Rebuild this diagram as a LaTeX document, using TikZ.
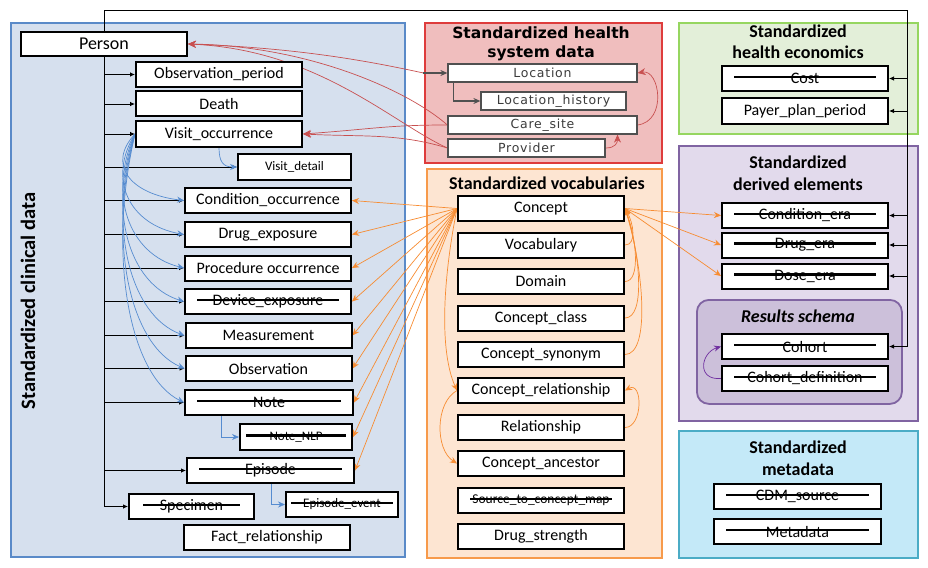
\documentclass[tikz,border=0pt]{standalone}
\usepackage{fontspec}
\setmainfont{Carlito}
\newfontfamily\hsfont[LetterSpace=6]{DejaVu Sans}
\newfontfamily\hstfont{DejaVu Sans}
\usetikzlibrary{arrows.meta}
\definecolor{cbluefill}{RGB}{214,224,238}
\definecolor{cblueline}{RGB}{90,138,200}
\definecolor{credfill}{RGB}{240,190,190}
\definecolor{credline}{RGB}{222,60,60}
\definecolor{corfill}{RGB}{253,229,210}
\definecolor{corline}{RGB}{247,154,75}
\definecolor{cgrfill}{RGB}{227,239,217}
\definecolor{cgrline}{RGB}{150,214,96}
\definecolor{cpufill}{RGB}{226,218,236}
\definecolor{cpuline}{RGB}{128,100,162}
\definecolor{crsfill}{RGB}{204,192,218}
\definecolor{ccyfill}{RGB}{196,233,248}
\definecolor{ccyline}{RGB}{75,172,198}
\definecolor{cbluearr}{RGB}{86,140,208}
\definecolor{credarr}{RGB}{200,80,80}
\definecolor{corarr}{RGB}{247,140,50}
\definecolor{cpurarr}{RGB}{112,48,160}
\definecolor{chsgray}{RGB}{80,80,80}
\definecolor{chstext}{RGB}{60,60,60}
\pgfdeclarelayer{panels}
\pgfdeclarelayer{edges}
\pgfsetlayers{panels,edges,main}
\begin{document}
\begin{tikzpicture}[x=1pt,y=-1pt,
  panel/.style={line width=1.8pt, anchor=north west, inner sep=0pt},
  box/.style={draw=black, line width=2pt, fill=white, inner sep=0pt,
    minimum width=166pt, minimum height=25pt, font=\fontsize{16}{18}\selectfont},
  sbox/.style={box, font=\fontsize{13}{15}\selectfont},
  hbox/.style={draw=chsgray, line width=1.2pt, fill=white, inner sep=0pt,
    minimum height=18pt, text=chstext, font=\hsfont\fontsize{12.5}{14}\selectfont},
  strike/.style={path picture={\draw[line width=2.4pt]
    ([shift={(#1,1.5pt)}]path picture bounding box.west) --
    ([shift={(-#1,1.5pt)}]path picture bounding box.east);}},
  strike/.default=12pt,
  title/.style={font=\bfseries\fontsize{18}{21.5}\selectfont, align=center},
  blk/.style={draw=black, line width=0.8pt},
  tipk/.style={-{Latex[length=5pt,width=4.5pt]}},
  bluearr/.style={draw=cbluearr, line width=0.7pt, -{Stealth[length=7pt,width=6pt]}},
  orarr/.style={draw=corarr, line width=0.7pt, -{Stealth[length=7pt,width=6pt]}},
  redarr/.style={draw=credarr, line width=0.7pt, -{Stealth[length=8pt,width=7pt]}},
  grayarr/.style={draw=chsgray, line width=1.2pt, -{Stealth[length=7pt,width=6pt]}},
  purarr/.style={draw=cpurarr, line width=0.7pt, -{Stealth[length=7pt,width=6pt]}}
]
\useasboundingbox (0,0) rectangle (928,567);

% ---------- panels ----------
\begin{pgfonlayer}{panels}
\node[panel, draw=cblueline, fill=cbluefill, minimum width=394pt, minimum height=534pt] (clinical) at (10,22) {};
\node[panel, draw=credline, fill=credfill, minimum width=237pt, minimum height=140pt] (hsys) at (424,22) {};
\node[panel, draw=corline, fill=corfill, minimum width=235pt, minimum height=389pt] (vocab) at (426,168) {};
\node[panel, draw=cgrline, fill=cgrfill, minimum width=239pt, minimum height=111pt] (econ) at (678,22) {};
\node[panel, draw=cpuline, fill=cpufill, minimum width=239pt, minimum height=275pt] (derived) at (678,145) {};
\node[panel, draw=cpuline, fill=crsfill, rounded corners=12pt, minimum width=205pt, minimum height=104pt] (results) at (696,299) {};
\node[panel, draw=ccyline, fill=ccyfill, minimum width=239pt, minimum height=127pt] (meta) at (678,430) {};
\end{pgfonlayer}

% ---------- titles ----------
\node[rotate=90, font=\bfseries\fontsize{20.5}{24}\selectfont] (cliniclabel) at (28,301) {Standardized clinical data};
\node[font=\hstfont\bfseries\fontsize{15.5}{19}\selectfont, align=center] (hsystitle) at (541,44) {Standardized health\\system data};
\node[title] (vocabtitle) at (547,183) {Standardized vocabularies};
\node[title] (econtitle) at (798,42) {Standardized\\health economics};
\node[title] (derivedtitle) at (798,173) {Standardized\\derived elements};
\node[font=\bfseries\itshape\fontsize{18}{21}\selectfont] (resultstitle) at (798,316) {Results schema};
\node[title] (metatitle) at (798,458) {Standardized\\metadata};

% ---------- clinical boxes ----------
\node[box, minimum height=24pt, font=\fontsize{18}{20}\selectfont] (person) at (104,44) {Person};
\node[box] (obs) at (219,74.5) {Observation\_period};
\node[box] (death) at (219,104) {Death};
\node[box] (visit) at (219,134) {Visit\_occurrence};
\node[sbox, minimum width=113pt, minimum height=26pt] (vdetail) at (294.5,167) {Visit\_detail};
\node[box] (cond) at (268,200.5) {Condition\_occurrence};
\node[box] (drug) at (268,234.5) {Drug\_exposure};
\node[box] (proc) at (268,268) {Procedure occurrence};
\node[box, strike] (device) at (268,301.5) {Device\_exposure};
\node[box] (meas) at (268.5,335.5) {Measurement};
\node[box] (observ) at (268.5,368.5) {Observation};
\node[box, minimum width=168pt, strike] (note) at (269,402.5) {Note};
\node[sbox, minimum width=112pt, minimum height=26pt, strike=6pt] (nlp) at (296,437) {Note\_NLP};
\node[box, minimum width=167pt, strike] (episode) at (270.5,470.5) {Episode};
\node[box, minimum width=125pt, strike=14pt] (specimen) at (191.5,506.5) {Specimen};
\node[sbox, minimum width=112pt, strike=5pt] (epev) at (342,504.5) {Episode\_event};
\node[box] (fact) at (267,537.5) {Fact\_relationship};

% ---------- health system boxes ----------
\node[hbox, minimum width=189pt] (location) at (542.5,73) {Location};
\node[hbox, minimum width=145pt] (lochist) at (553.5,101) {Location\_history};
\node[hbox, minimum width=189pt] (caresite) at (542.5,125) {Care\_site};
\node[hbox, minimum width=157pt] (provider) at (526.5,148) {Provider};

% ---------- vocabulary boxes ----------
\node[box] (concept) at (541,208.5) {Concept};
\node[box] (vocabulary) at (541,245) {Vocabulary};
\node[box] (domain) at (541,281.5) {Domain};
\node[box] (cclass) at (541,318) {Concept\_class};
\node[box] (csyn) at (541,354.5) {Concept\_synonym};
\node[box] (crel) at (541,390.5) {Concept\_relationship};
\node[box] (rel) at (541,427.5) {Relationship};
\node[box] (canc) at (541,463.5) {Concept\_ancestor};
\node[box, font=\fontsize{13.5}{15}\selectfont, strike] (stcm) at (541,500.5) {Source\_to\_concept\_map};
\node[box] (dstr) at (541,536.5) {Drug\_strength};

% ---------- right column boxes ----------
\node[box, strike] (cost) at (805,78.5) {Cost};
\node[box, minimum height=26pt] (payer) at (805,111) {Payer\_plan\_period};
\node[box, strike] (condera) at (805,215.5) {Condition\_era};
\node[box, strike] (drugera) at (805,245) {Drug\_era};
\node[box, strike] (doseera) at (805,276) {Dose\_era};
\node[box, strike] (cohort) at (805,346.5) {Cohort};
\node[box, strike] (cohortdef) at (805,378.5) {Cohort\_definition};
\node[box, minimum width=167pt, strike] (cdmsrc) at (797.5,496.5) {CDM\_source};
\node[box, minimum width=167pt, strike] (metadata) at (797.5,531.5) {Metadata};

% ---------- connectors ----------
\begin{pgfonlayer}{edges}
\coordinate (tr) at (907,10);
% black person trunk
\draw[blk, tipk] (person.south) |- (specimen.west);
\foreach \t in {obs,death,visit,vdetail,cond,drug,proc,device,meas,observ,note,episode}
  \draw[blk, tipk] (person.south |- \t.west) -- (\t.west);
% top line to right column
\draw[blk, tipk] (person.north) |- (tr) |- (cohort.east);
\foreach \t in {cost,payer,condera,drugera,doseera}
  \draw[blk, tipk] (tr |- \t.east) -- (\t.east);

% blue
\foreach \t/\d in {cond/66,drug/100,proc/134,device/168,meas/201,observ/235,note/268}
  \draw[bluearr] (visit.west) .. controls +(-28,{0.45*\d}) and +(-55,{-0.1*\d}) .. (\t.west);
\draw[bluearr] (visit.south) .. controls +(0,14) and +(-14,0) .. (vdetail.west);
\draw[bluearr] ([xshift=37pt]note.south west) |- (nlp.west);
\draw[bluearr] ([xshift=85pt]episode.south west) |- (epev.west);

% orange
\foreach \t in {cond,drug,proc,device,meas,observ,note,nlp,episode}
  \draw[orarr] (concept.west) -- (\t.east);
\foreach \t in {condera,drugera,doseera}
  \draw[orarr] (concept.east) -- (\t.west);
\foreach \t/\k/\d in {vocabulary/12/36,domain/16/73,cclass/21/110,csyn/26/146}
  \draw[orarr] (\t.east) .. controls +(\k,0) and +({0.7*\k},{0.4*\d}) .. (concept.east);
\draw[orarr] (concept.west) .. controls +(-14,70) and +(-18,-40) .. (crel.west);
\draw[orarr] (crel.west) .. controls +(-22,12) and +(-22,-14) .. (canc.west);
\draw[orarr] (rel.east) .. controls +(18,0) and +(18,-10) .. (crel.east);

% red
\coordinate (locin) at ([xshift=-24pt]location.west);
\draw[redarr] (locin) .. controls +(-55,-12) and +(110,4) .. (person.east);
\draw[grayarr] (locin) -- (location.west);
\draw[redarr] (caresite.west) .. controls +(-40,-35) and +(120,2) .. (person.east);
\draw[redarr] (provider.west) .. controls +(-55,-25) and +(130,6) .. (person.east);
\draw[redarr] (caresite.west) .. controls +(-60,0) and +(70,-5) .. (visit.east);
\draw[redarr] (provider.west) .. controls +(-50,-15) and +(60,3) .. (visit.east);
\draw[grayarr] ([xshift=6pt]location.south west) |- (lochist.west);
\draw[redarr] (caresite.east) .. controls +(30,-4) and +(22,-4) .. (location.east);
\draw[redarr] (provider.east) .. controls +(10,0) and +(0,8) .. ([xshift=75pt]caresite.south);

% purple
\draw[purarr] (cohortdef.west) .. controls +(-25,2) and +(-20,6) .. (cohort.west);
\end{pgfonlayer}
\end{tikzpicture}
\end{document}
